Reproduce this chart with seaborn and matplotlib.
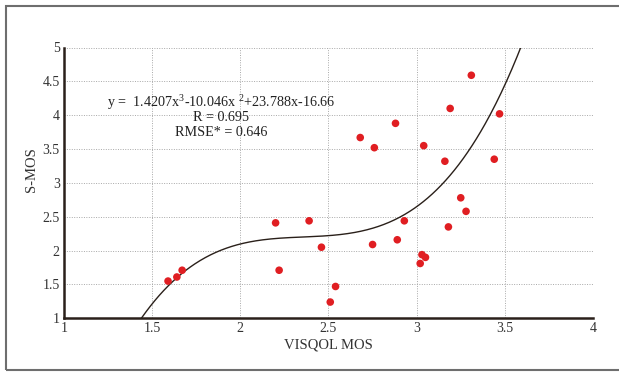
import numpy as np
import pandas as pd
import seaborn as sns
import matplotlib.pyplot as plt
from matplotlib.patches import Rectangle

# data
visqol_mos = [1.59, 1.64, 1.67, 2.20, 2.22, 2.39, 2.46, 2.51, 2.54, 2.68, 2.76, 2.75,
              2.88, 2.89, 2.93, 3.04, 3.03, 3.05, 3.02, 3.16, 3.18, 3.19, 3.25, 3.28,
              3.31, 3.44, 3.47]
s_mos = [1.55, 1.61, 1.71, 2.41, 1.71, 2.44, 2.05, 1.24, 1.47, 3.67, 3.52, 2.09,
         3.88, 2.16, 2.44, 3.55, 1.94, 1.90, 1.81, 3.32, 2.35, 4.10, 2.78, 2.58,
         4.59, 3.35, 4.02]
fit_coeffs = [1.4207, -10.046, 23.788, -16.66]  # cubic fit shown on the chart
x_ticks = [1, 1.5, 2, 2.5, 3, 3.5, 4]
y_ticks = [1, 1.5, 2, 2.5, 3, 3.5, 4, 4.5, 5]
x_tick_labels = ["1", "1.5", "2", "2.5", "3", "3.5", "4"]
y_tick_labels = ["1", "1.5", "2", "2.5", "3", "3.5", "4", "4.5", "5"]

sns.set_theme(style="white")
plt.rcParams['font.family'] = ['Liberation Serif', 'DejaVu Serif']
plt.rcParams['mathtext.fontset'] = 'custom'
plt.rcParams['mathtext.rm'] = 'Liberation Serif'

fig = plt.figure(figsize=(6.19, 3.72), dpi=100)
ax = fig.add_axes([64/619, 1-318.3/372, (593-64)/619, (318.3-47.5)/372])

df = pd.DataFrame({"VISQOL MOS": visqol_mos, "S-MOS": s_mos})
xs = np.linspace(1.0, 4.0, 600)
ys = np.polyval(fit_coeffs, xs)
mask = (ys >= 0.9) & (ys <= 5.1)
curve = pd.DataFrame({"x": xs[mask], "y": ys[mask]})

sns.lineplot(data=curve, x="x", y="y", ax=ax, color="#2a201a", linewidth=1.0)
sns.scatterplot(data=df, x="VISQOL MOS", y="S-MOS", ax=ax, color="#e01e22",
                s=30, edgecolor="none", zorder=3)

ax.set_xlim(1, 4)
ax.set_ylim(1, 5)
ax.set_xticks(x_ticks)
ax.set_xticklabels(x_tick_labels)
ax.set_yticks(y_ticks)
ax.set_yticklabels(y_tick_labels)
ax.grid(True, linestyle=(0, (1, 1.5)), color="#a8a8a8", linewidth=0.7)
for side in ["top", "right"]:
    ax.spines[side].set_visible(False)
for side in ["left", "bottom"]:
    ax.spines[side].set_color("#2a201a")
    ax.spines[side].set_linewidth(1.8)
ax.tick_params(direction="in", length=4, width=1.0, color="#2a201a",
               labelsize=10, labelcolor="#333333", pad=3)
ax.set_xlabel("VISQOL MOS", fontsize=10.5, color="#333333", labelpad=2)
ax.set_ylabel("S-MOS", fontsize=10.5, color="#333333")
ax.yaxis.set_label_coords(-0.05, 0.55)

ax.text(1.89, 4.19, r"y =  1.4207x$^3$-10.046x $^2$+23.788x-16.66",
        ha="center", va="center", fontsize=10.2, color="#222222")
ax.text(1.89, 3.96, "R = 0.695", ha="center", va="center", fontsize=10.2, color="#222222")
ax.text(1.89, 3.74, "RMSE* = 0.646", ha="center", va="center", fontsize=10.2, color="#222222")

fig.patches.append(Rectangle((6/619, 1-370/372), 1.2, (370-6)/372,
                             transform=fig.transFigure, fill=False,
                             edgecolor="#6e6e6e", linewidth=1.5))

fig.savefig("out.png", dpi=100)
